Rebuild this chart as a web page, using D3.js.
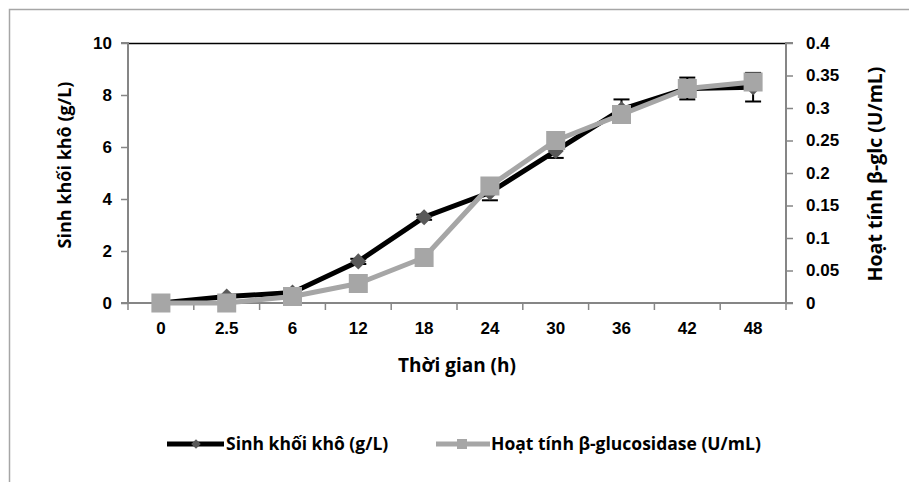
<!DOCTYPE html>
<html lang="vi">
<head>
    <meta charset="UTF-8">
    <title>Sinh khối khô và hoạt tính β-glucosidase</title>
    <script src="https://d3js.org/d3.v7.min.js"></script>
    <style>
        html, body { margin: 0; padding: 0; background: #fff; }
        svg { display: block; font-family: "Open Sans", Lato, sans-serif; font-weight: bold; }
        .tick-label { font-size: 17px; fill: #000; }
        .axis-title { font-size: 19px; fill: #000; }
        .legend-text { font-size: 17.5px; fill: #000; }
    </style>
</head>
<body>
    <svg width="909" height="482"></svg>
    <script>
        const categories = ["0", "2.5", "6", "12", "18", "24", "30", "36", "42", "48"];
        const biomass = [0, 0.25, 0.4, 1.6, 3.3, 4.25, 5.85, 7.45, 8.25, 8.3];
        const biomassErr = [0, 0.05, 0.05, 0.1, 0.1, 0.3, 0.27, 0.38, 0.42, 0.55];
        const glucosidase = [0, 0, 0.01, 0.03, 0.07, 0.18, 0.25, 0.29, 0.33, 0.34];
        const leftTicks = [0, 2, 4, 6, 8, 10];
        const rightTicks = [0, 0.05, 0.1, 0.15, 0.2, 0.25, 0.3, 0.35, 0.4];

        const svg = d3.select("svg"),
              margin = {top: 43, right: 123, bottom: 179, left: 128},
              width = +svg.attr("width") - margin.left - margin.right,
              height = +svg.attr("height") - margin.top - margin.bottom;

        const axisColor = "#868686";

        // outer chart frame (runs off the right and bottom edge)
        svg.append("rect")
           .attr("x", 9.5).attr("y", 9.5)
           .attr("width", 960).attr("height", 560)
           .attr("fill", "none")
           .attr("stroke", "#a6a6a6")
           .attr("stroke-width", 1.5);

        const g = svg.append("g").attr("transform", `translate(${margin.left},${margin.top})`);

        const x = d3.scaleBand().domain(categories).range([0, width]).padding(0);
        const yL = d3.scaleLinear().domain([0, 10]).range([height, 0]);
        const yR = d3.scaleLinear().domain([0, 0.4]).range([height, 0]);
        const cx = d => x(d) + x.bandwidth() / 2;

        // plot area top border
        g.append("line")
         .attr("x1", 0).attr("x2", width).attr("y1", 0.5).attr("y2", 0.5)
         .attr("stroke", "#000").attr("stroke-width", 1.5);

        // left axis
        const axL = g.append("g")
         .call(d3.axisLeft(yL).tickValues(leftTicks).tickSize(7).tickPadding(9).tickFormat(d3.format("d")));
        // right axis
        const axR = g.append("g")
         .attr("transform", `translate(${width},0)`)
         .call(d3.axisRight(yR).tickValues(rightTicks).tickSize(7).tickPadding(13).tickFormat(d => d === 0 ? "0" : String(+d.toFixed(2))));
        // bottom axis: labels centred in bands, ticks on band edges
        const axB = g.append("g")
         .attr("transform", `translate(0,${height})`)
         .call(d3.axisBottom(x).tickSize(0).tickPadding(19));
        axB.selectAll(".edge")
           .data(d3.range(categories.length + 1))
           .enter().append("line")
           .attr("class", "edge")
           .attr("x1", i => i * x.step()).attr("x2", i => i * x.step())
           .attr("y1", 0).attr("y2", 7)
           .attr("stroke", axisColor).attr("stroke-width", 1.5);

        [axL, axR, axB].forEach(a => {
            a.selectAll(".domain").attr("stroke", axisColor).attr("stroke-width", 2);
            a.selectAll(".tick line").attr("stroke", axisColor).attr("stroke-width", 1.5);
            a.selectAll("text").attr("class", "tick-label").attr("font-family", null).attr("font-size", null);
        });
        axL.select(".domain").attr("d", `M-7,${height}H0V0H-7`);
        axR.select(".domain").attr("d", `M7,${height}H0V0H7`);
        axB.select(".domain").attr("d", `M0,0H${width}`);

        // axis titles
        g.append("text")
         .attr("class", "axis-title")
         .style("font-size", "18px")
         .attr("transform", `translate(-63,${height / 2 - 8}) rotate(-90)`)
         .attr("text-anchor", "middle").attr("dy", "0.35em")
         .text("Sinh khối khô (g/L)");
        g.append("text")
         .attr("class", "axis-title")
         .style("font-size", "19.5px")
         .attr("transform", `translate(${width + 89},${height / 2 + 1}) rotate(-90)`)
         .attr("text-anchor", "middle").attr("dy", "0.35em")
         .text("Hoạt tính β-glc (U/mL)");
        g.append("text")
         .attr("class", "axis-title")
         .attr("x", width / 2).attr("y", height + 62)
         .attr("text-anchor", "middle").attr("dy", "0.35em")
         .text("Thời gian (h)");

        // error bars of biomass
        const eb = g.append("g").attr("stroke", "#000").attr("stroke-width", 2);
        categories.forEach((c, i) => {
            const xc = cx(c), e = biomassErr[i];
            if (!e) return;
            eb.append("line").attr("x1", xc).attr("x2", xc)
              .attr("y1", yL(biomass[i] + e)).attr("y2", yL(biomass[i] - e));
            [biomass[i] + e, biomass[i] - e].forEach(v => {
                eb.append("line").attr("x1", xc - 8).attr("x2", xc + 8)
                  .attr("y1", yL(v)).attr("y2", yL(v));
            });
        });

        // biomass series
        const lineL = d3.line().x((d, i) => cx(categories[i])).y(d => yL(d));
        g.append("path").datum(biomass)
         .attr("d", lineL).attr("fill", "none")
         .attr("stroke", "#000").attr("stroke-width", 5).attr("stroke-linejoin", "round");
        g.selectAll(".diamond").data(biomass).enter().append("path")
         .attr("class", "diamond")
         .attr("d", d3.symbol(d3.symbolSquare, 130))
         .attr("transform", (d, i) => `translate(${cx(categories[i])},${yL(d)}) rotate(45)`)
         .attr("fill", "#595959");

        // glucosidase series
        const lineR = d3.line().x((d, i) => cx(categories[i])).y(d => yR(d));
        g.append("path").datum(glucosidase)
         .attr("d", lineR).attr("fill", "none")
         .attr("stroke", "#a6a6a6").attr("stroke-width", 5).attr("stroke-linejoin", "round");
        g.selectAll(".square").data(glucosidase).enter().append("rect")
         .attr("class", "square")
         .attr("x", (d, i) => cx(categories[i]) - 9.5)
         .attr("y", d => yR(d) - 9.5)
         .attr("width", 19).attr("height", 19)
         .attr("fill", "#a6a6a6");

        // legend
        const lg = svg.append("g").attr("transform", "translate(0,444)");
        lg.append("line").attr("x1", 167).attr("x2", 224).attr("y1", 0).attr("y2", 0)
          .attr("stroke", "#000").attr("stroke-width", 5);
        lg.append("path").attr("d", d3.symbol(d3.symbolSquare, 45))
          .attr("transform", "translate(196,0) rotate(45)").attr("fill", "#595959");
        lg.append("text").attr("class", "legend-text").attr("x", 226).attr("dy", "0.35em")
          .text("Sinh khối khô (g/L)");
        lg.append("line").attr("x1", 436).attr("x2", 490).attr("y1", 0).attr("y2", 0)
          .attr("stroke", "#a6a6a6").attr("stroke-width", 5);
        lg.append("rect").attr("x", 457).attr("y", -5).attr("width", 10).attr("height", 10)
          .attr("fill", "#a6a6a6");
        lg.append("text").attr("class", "legend-text").attr("x", 491).attr("dy", "0.35em")
          .text("Hoạt tính β-glucosidase (U/mL)");
    </script>
</body>
</html>
